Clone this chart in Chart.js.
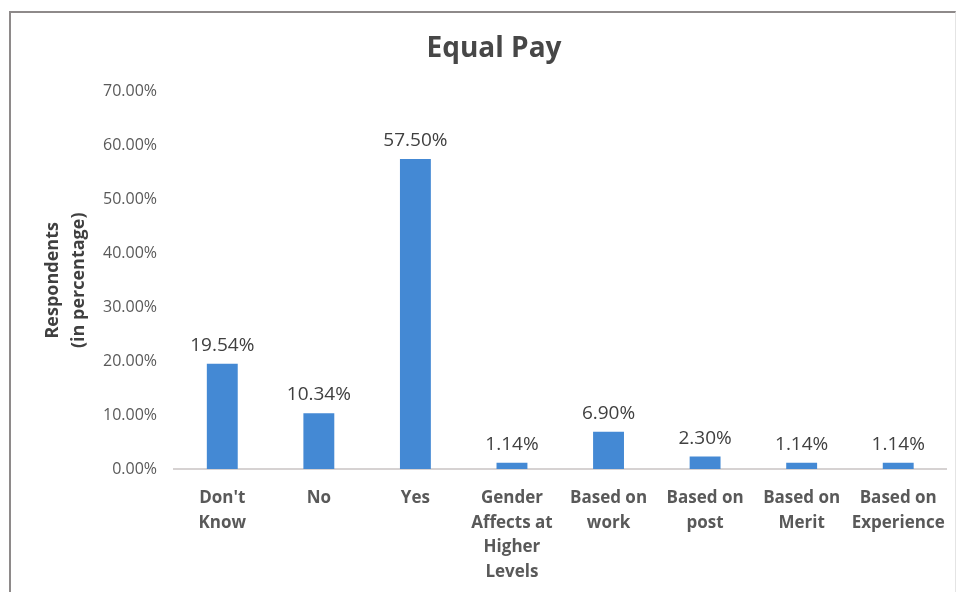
<!DOCTYPE html>
<html>
<head>
<meta charset="utf-8">
<title>Equal Pay</title>
<script src="https://cdn.jsdelivr.net/npm/chart.js@4.4.1/dist/chart.umd.min.js"></script>
<style>
    html, body { margin: 0; padding: 0; background: #ffffff; }
    #wrap { position: relative; width: 962px; height: 592px; }
    #frame {
        position: absolute; left: 9px; top: 11px; width: 944px; height: 590px;
        border-left: 2px solid #8e8a8a; border-top: 2px solid #8e8a8a; border-right: 1px solid #e4e4e4;
        pointer-events: none;
    }
    canvas { position: absolute; left: 0; top: 0; }
</style>
</head>
<body>
<div id="wrap">
    <canvas id="payChart" width="962" height="592"></canvas>
    <div id="frame"></div>
</div>
<script>
// chart data
const categories = [
    ["Don't", "Know"],
    ["No"],
    ["Yes"],
    ["Gender", "Affects at", "Higher", "Levels"],
    ["Based on", "work"],
    ["Based on", "post"],
    ["Based on", "Merit"],
    ["Based on", "Experience"]
];
const respondents = [19.54, 10.34, 57.50, 1.14, 6.90, 2.30, 1.14, 1.14];
const yTicks = [0, 10, 20, 30, 40, 50, 60, 70];

const textColor = "#595959";
const fontFamily = "'Open Sans', 'Noto Sans', sans-serif";

// draws the value above each bar
const barLabels = {
    id: 'barLabels',
    afterDatasetsDraw(chart) {
        const ctx = chart.ctx;
        const meta = chart.getDatasetMeta(0);
        ctx.save();
        ctx.font = "19px " + fontFamily;
        ctx.fillStyle = "#404040";
        ctx.textAlign = "center";
        ctx.textBaseline = "alphabetic";
        meta.data.forEach((bar, i) => {
            ctx.fillText(respondents[i].toFixed(2) + "%", bar.x, bar.y - 13);
        });
        ctx.restore();
    }
};

const ctx = document.getElementById('payChart').getContext('2d');
new Chart(ctx, {
    type: 'bar',
    data: {
        labels: categories,
        datasets: [{
            data: respondents,
            backgroundColor: "#4489d4",
            categoryPercentage: 1,
            barPercentage: 0.32
        }]
    },
    options: {
        responsive: false,
        animation: false,
        layout: { padding: { left: 30, right: 4, top: 0, bottom: 0 } },
        plugins: {
            legend: { display: false },
            tooltip: { enabled: false },
            title: {
                display: true,
                text: "Equal Pay",
                color: "#474747",
                font: { family: fontFamily, size: 28, weight: 'bold' },
                padding: { top: 32, bottom: 26 }
            }
        },
        scales: {
            x: {
                grid: { display: false, drawTicks: false },
                border: { display: true, color: "#d6d2d2", width: 2 },
                ticks: {
                    color: textColor,
                    autoSkip: false,
                    maxRotation: 0,
                    padding: 17,
                    font: { family: fontFamily, size: 17, weight: 'bold', lineHeight: 1.44 }
                },
                afterFit: (scale) => { scale.height = 123; }
            },
            y: {
                min: 0,
                max: 70,
                afterBuildTicks: (scale) => { scale.ticks = yTicks.map(v => ({ value: v })); },
                grid: { display: false, drawTicks: false },
                border: { display: false },
                ticks: {
                    color: textColor,
                    padding: 17,
                    font: { family: fontFamily, size: 16 },
                    callback: (v) => v.toFixed(2) + "%"
                },
                title: {
                    display: true,
                    text: ["Respondents", "(in percentage)"],
                    color: "#404040",
                    font: { family: fontFamily, size: 18, weight: 'bold', lineHeight: 1.45 },
                    padding: { top: 10, bottom: 0 }
                },
                afterFit: (scale) => { scale.width = 144; }
            }
        }
    },
    plugins: [barLabels]
});
</script>
</body>
</html>
